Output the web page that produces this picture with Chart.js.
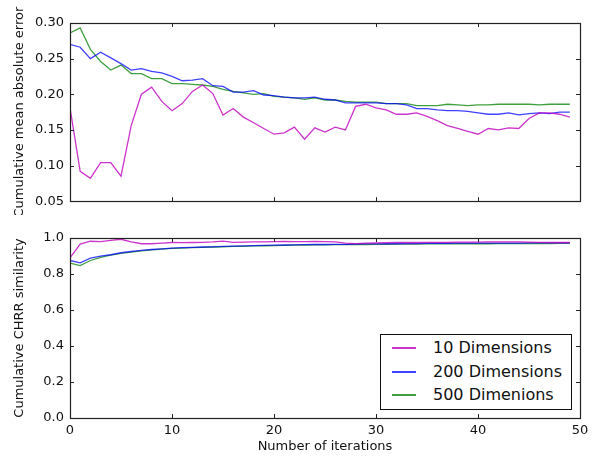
<!DOCTYPE html>
<html>
<head>
<meta charset="utf-8">
<script src="https://cdn.jsdelivr.net/npm/chart.js@4"></script>
<style>
    body { margin: 0; background: #fff; }
    #wrap { position: relative; width: 597px; height: 457px; font-family: 'DejaVu Sans', sans-serif; }
    #errCanvas { position: absolute; left: 0; top: 0; }
    #simCanvas { position: absolute; left: 0; top: 215px; }
    #legend {
        position: absolute; left: 380px; top: 334px; width: 190px; height: 74px;
        border: 1px solid #111; background: #fff;
    }
    .row { position: absolute; left: 0; height: 20px; font-size: 16px; color: #111; }
    .row .swatch { position: absolute; left: 11px; top: 9px; width: 24px; height: 2px; }
    .row .txt { position: absolute; left: 52px; top: 0; white-space: nowrap; line-height: 20px; }
</style>
</head>
<body>
<div id="wrap">
    <canvas id="errCanvas" width="597" height="215"></canvas>
    <canvas id="simCanvas" width="597" height="242"></canvas>
    <div id="legend"></div>
</div>
<script>
const iterations = Array.from({ length: 50 }, (_, i) => i);
const seriesLabels = ['10 Dimensions', '200 Dimensions', '500 Dimenions'];
const seriesColors = ['rgba(191, 0, 191, 0.8)', 'rgba(0, 0, 255, 0.75)', 'rgba(0, 128, 0, 0.75)'];

// cumulative mean absolute error per iteration
const mae10 = [0.181, 0.092, 0.082, 0.104, 0.104, 0.085, 0.156, 0.200, 0.210, 0.190,
    0.177, 0.187, 0.204, 0.213, 0.201, 0.171, 0.180, 0.168, 0.160, 0.152,
    0.144, 0.146, 0.154, 0.137, 0.153, 0.147, 0.154, 0.150, 0.183, 0.186,
    0.181, 0.178, 0.172, 0.172, 0.174, 0.169, 0.163, 0.156, 0.152, 0.148,
    0.144, 0.152, 0.150, 0.153, 0.152, 0.166, 0.174, 0.174, 0.172, 0.168];
const mae200 = [0.270, 0.266, 0.250, 0.259, 0.251, 0.243, 0.234, 0.236, 0.232, 0.230,
    0.225, 0.219, 0.220, 0.222, 0.212, 0.211, 0.203, 0.203, 0.205, 0.199,
    0.198, 0.196, 0.195, 0.195, 0.196, 0.193, 0.192, 0.188, 0.188, 0.188,
    0.188, 0.187, 0.187, 0.185, 0.180, 0.180, 0.178, 0.177, 0.177, 0.176,
    0.174, 0.172, 0.172, 0.174, 0.171, 0.173, 0.174, 0.173, 0.175, 0.175];
const mae500 = [0.286, 0.293, 0.263, 0.246, 0.234, 0.241, 0.229, 0.229, 0.222, 0.222,
    0.215, 0.215, 0.214, 0.213, 0.211, 0.207, 0.204, 0.202, 0.200, 0.201,
    0.197, 0.196, 0.195, 0.193, 0.195, 0.192, 0.192, 0.190, 0.189, 0.189,
    0.189, 0.187, 0.187, 0.187, 0.184, 0.184, 0.184, 0.186, 0.185, 0.184,
    0.185, 0.185, 0.186, 0.186, 0.186, 0.186, 0.185, 0.186, 0.186, 0.186];

// cumulative CHRR similarity per iteration
const sim10 = [0.890, 0.966, 0.982, 0.980, 0.987, 0.993, 0.978, 0.968, 0.968, 0.972,
    0.975, 0.974, 0.975, 0.976, 0.978, 0.983, 0.976, 0.977, 0.978, 0.979,
    0.980, 0.981, 0.980, 0.980, 0.981, 0.980, 0.978, 0.972, 0.969, 0.972,
    0.973, 0.974, 0.975, 0.975, 0.975, 0.976, 0.976, 0.976, 0.977, 0.977,
    0.977, 0.978, 0.978, 0.979, 0.978, 0.977, 0.976, 0.975, 0.975, 0.975];
const sim200 = [0.875, 0.862, 0.888, 0.899, 0.907, 0.918, 0.925, 0.931, 0.936, 0.940,
    0.944, 0.946, 0.948, 0.950, 0.951, 0.953, 0.955, 0.956, 0.958, 0.959,
    0.960, 0.961, 0.962, 0.963, 0.964, 0.964, 0.965, 0.965, 0.966, 0.967,
    0.967, 0.968, 0.968, 0.969, 0.969, 0.970, 0.970, 0.970, 0.971, 0.971,
    0.971, 0.972, 0.972, 0.972, 0.972, 0.973, 0.973, 0.973, 0.973, 0.973];
const sim500 = [0.860, 0.847, 0.875, 0.893, 0.905, 0.915, 0.922, 0.929, 0.934, 0.938,
    0.942, 0.944, 0.946, 0.948, 0.950, 0.951, 0.953, 0.954, 0.956, 0.957,
    0.958, 0.959, 0.960, 0.961, 0.962, 0.962, 0.963, 0.963, 0.964, 0.964,
    0.965, 0.965, 0.966, 0.966, 0.966, 0.967, 0.967, 0.967, 0.968, 0.968,
    0.968, 0.968, 0.969, 0.969, 0.969, 0.969, 0.969, 0.969, 0.970, 0.970];

const xTicks = [0, 10, 20, 30, 40, 50];
const maeTicks = [0.05, 0.10, 0.15, 0.20, 0.25, 0.30];
const simTicks = [0.0, 0.2, 0.4, 0.6, 0.8, 1.0];

const FONT = "'DejaVu Sans', sans-serif";
const INK = '#111';

// frame around the plot area plus inward tick marks on all four sides
const framePlugin = {
    id: 'frame',
    afterDraw(chart) {
        const { ctx, chartArea: a, scales } = chart;
        const len = 4;
        ctx.save();
        ctx.strokeStyle = '#222';
        ctx.lineWidth = 1;
        ctx.beginPath();
        scales.x.ticks.forEach(t => {
            const px = Math.round(scales.x.getPixelForValue(t.value)) + 0.5;
            ctx.moveTo(px, a.bottom); ctx.lineTo(px, a.bottom - len);
            ctx.moveTo(px, a.top); ctx.lineTo(px, a.top + len);
        });
        scales.y.ticks.forEach(t => {
            const py = Math.round(scales.y.getPixelForValue(t.value)) + 0.5;
            ctx.moveTo(a.left, py); ctx.lineTo(a.left + len, py);
            ctx.moveTo(a.right, py); ctx.lineTo(a.right - len, py);
        });
        ctx.stroke();
        ctx.lineWidth = 1.2;
        ctx.strokeRect(Math.round(a.left) + 0.5, Math.round(a.top) + 0.5,
            Math.round(a.right - a.left), Math.round(a.bottom - a.top));
        ctx.restore();
    }
};

function toPoints(values) {
    return values.map((v, i) => ({ x: iterations[i], y: v }));
}

function makeDatasets(series) {
    return series.map((values, k) => ({
        label: seriesLabels[k],
        data: toPoints(values),
        borderColor: seriesColors[k],
        borderWidth: 1.3,
        pointRadius: 0,
        tension: 0,
        fill: false
    }));
}

function buildChart(canvasId, series, yTicks, yDigits, yTitle, showX, areaBottom, canvasHeight) {
    const ctx = document.getElementById(canvasId).getContext('2d');
    return new Chart(ctx, {
        type: 'line',
        data: { datasets: makeDatasets(series) },
        options: {
            responsive: false,
            animation: false,
            devicePixelRatio: 1,
            layout: { padding: { top: 23, right: 17, left: 0, bottom: 0 } },
            plugins: { legend: { display: false }, tooltip: { enabled: false } },
            scales: {
                x: {
                    type: 'linear',
                    min: xTicks[0],
                    max: xTicks[xTicks.length - 1],
                    afterBuildTicks: s => { s.ticks = xTicks.map(v => ({ value: v })); },
                    grid: { display: false, drawTicks: false },
                    border: { display: false },
                    ticks: {
                        display: showX,
                        color: INK,
                        padding: 5,
                        font: { family: FONT, size: 13 },
                        callback: v => String(v)
                    },
                    title: {
                        display: showX,
                        text: 'Number of iterations',
                        color: INK,
                        font: { family: FONT, size: 13 },
                        padding: { top: 0, bottom: 3 }
                    },
                    afterFit: s => { s.height = canvasHeight - areaBottom; }
                },
                y: {
                    min: yTicks[0],
                    max: yTicks[yTicks.length - 1],
                    afterBuildTicks: s => { s.ticks = yTicks.map(v => ({ value: v })); },
                    grid: { display: false, drawTicks: false },
                    border: { display: false },
                    ticks: {
                        color: INK,
                        padding: 6,
                        font: { family: FONT, size: 13 },
                        callback: v => Number(v).toFixed(yDigits)
                    },
                    title: {
                        display: true,
                        text: yTitle,
                        color: INK,
                        font: { family: FONT, size: 13 },
                        padding: { top: 12, bottom: 0 }
                    },
                    afterFit: s => { s.width = 70; }
                }
            }
        },
        plugins: [framePlugin]
    });
}

buildChart('errCanvas', [mae10, mae200, mae500], maeTicks, 2,
    'Cumulative mean absolute error', false, 202, 215);
buildChart('simCanvas', [sim10, sim200, sim500], simTicks, 1,
    'Cumulative CHRR similarity', true, 203, 242);

// legend box in the lower right of the similarity panel
const legend = document.getElementById('legend');
seriesLabels.forEach((label, k) => {
    const row = document.createElement('div');
    row.className = 'row';
    row.style.top = (3 + k * 23.5) + 'px';
    const sw = document.createElement('div');
    sw.className = 'swatch';
    sw.style.background = seriesColors[k];
    const txt = document.createElement('div');
    txt.className = 'txt';
    txt.textContent = label;
    row.appendChild(sw);
    row.appendChild(txt);
    legend.appendChild(row);
});
</script>
</body>
</html>
